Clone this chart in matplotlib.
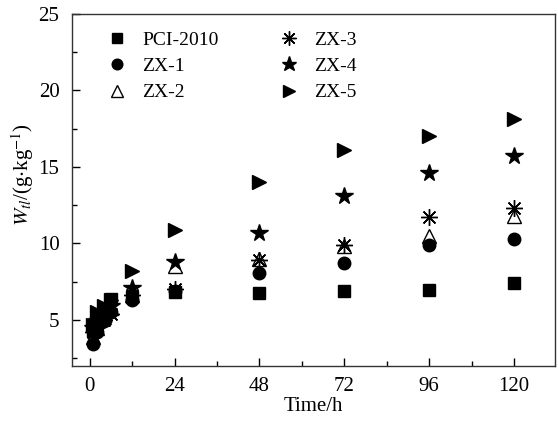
import matplotlib
matplotlib.use("Agg")
import matplotlib.pyplot as plt
from matplotlib.ticker import MultipleLocator

plt.rcParams['font.family'] = ['Liberation Serif', 'DejaVu Serif']
plt.rcParams['mathtext.fontset'] = 'stix'

time_h = [1, 2, 4, 6, 12, 24, 48, 72, 96, 120]
pci_2010 = [4.3, 4.8, 5.6, 6.4, 6.5, 6.8, 6.75, 6.9, 6.95, 7.4]
zx_1 = [3.4, 4.2, 4.9, 5.5, 6.3, 6.9, 8.1, 8.7, 9.9, 10.3]
zx_2 = [3.9, 4.5, 5.2, 5.8, 6.6, 8.5, 9.0, 9.8, 10.5, 11.8]
zx_3 = [4.2, 4.7, 5.0, 5.4, 6.6, 7.0, 8.9, 9.9, 11.7, 12.3]
zx_4 = [4.5, 4.9, 5.3, 5.9, 7.1, 8.8, 10.7, 13.1, 14.6, 15.7]
zx_5 = [4.7, 5.5, 5.9, 6.3, 8.2, 10.9, 14.0, 16.1, 17.0, 18.1]

series_names = ['PCI-2010', 'ZX-1', 'ZX-2', 'ZX-3', 'ZX-4', 'ZX-5']
x_ticks = [0, 24, 48, 72, 96, 120]
y_ticks = [5, 10, 15, 20, 25]

fig = plt.figure(figsize=(5.58, 4.21), dpi=100)
ax = fig.add_axes([0.129, 0.131, 0.865, 0.836])

styles = [
    dict(marker='s', ms=8, mfc='black', mec='black'),
    dict(marker='o', ms=9, mfc='black', mec='black'),
    dict(marker='^', ms=10, mfc='none', mec='black', mew=1.0),
    dict(marker=(8, 2, 0), ms=12, mfc='none', mec='black', mew=1.0),
    dict(marker='*', ms=13, mfc='black', mec='black'),
    dict(marker='>', ms=10, mfc='black', mec='black'),
]
data = [pci_2010, zx_1, zx_2, zx_3, zx_4, zx_5]
for name, vals, st in zip(series_names, data, styles):
    ax.plot(time_h, vals, linestyle='none', label=name, **st)

ax.set_xlim(-5, 131.5)
ax.set_ylim(2, 25)
ax.set_xticks(x_ticks)
ax.set_yticks(y_ticks)
ax.xaxis.set_minor_locator(MultipleLocator(12))
ax.yaxis.set_minor_locator(MultipleLocator(2.5))
ax.tick_params(which='both', direction='in', labelsize=15, top=False, right=False)
ax.tick_params(axis='x', which='major', pad=8)
ax.tick_params(axis='y', which='major', pad=9)
ax.tick_params(which='major', length=6, width=1)
ax.tick_params(which='minor', length=3.5, width=1)
for sp in ax.spines.values():
    sp.set_linewidth(1.0)
    sp.set_color('#333333')

ax.set_xlabel('Time/h', fontsize=15, labelpad=1)
ax.set_ylabel(r'$W_{tl}$/(g$\cdot$kg$^{-1}$)', fontsize=15)
ax.yaxis.set_label_coords(-0.075, 0.545)

ax.legend(loc='upper left', ncol=2, frameon=False, fontsize=14,
          bbox_to_anchor=(0.025, 0.99), handletextpad=0.3, columnspacing=2.6,
          labelspacing=0.45, markerscale=0.85, borderaxespad=0.3)

fig.savefig('out.png', dpi=100)
